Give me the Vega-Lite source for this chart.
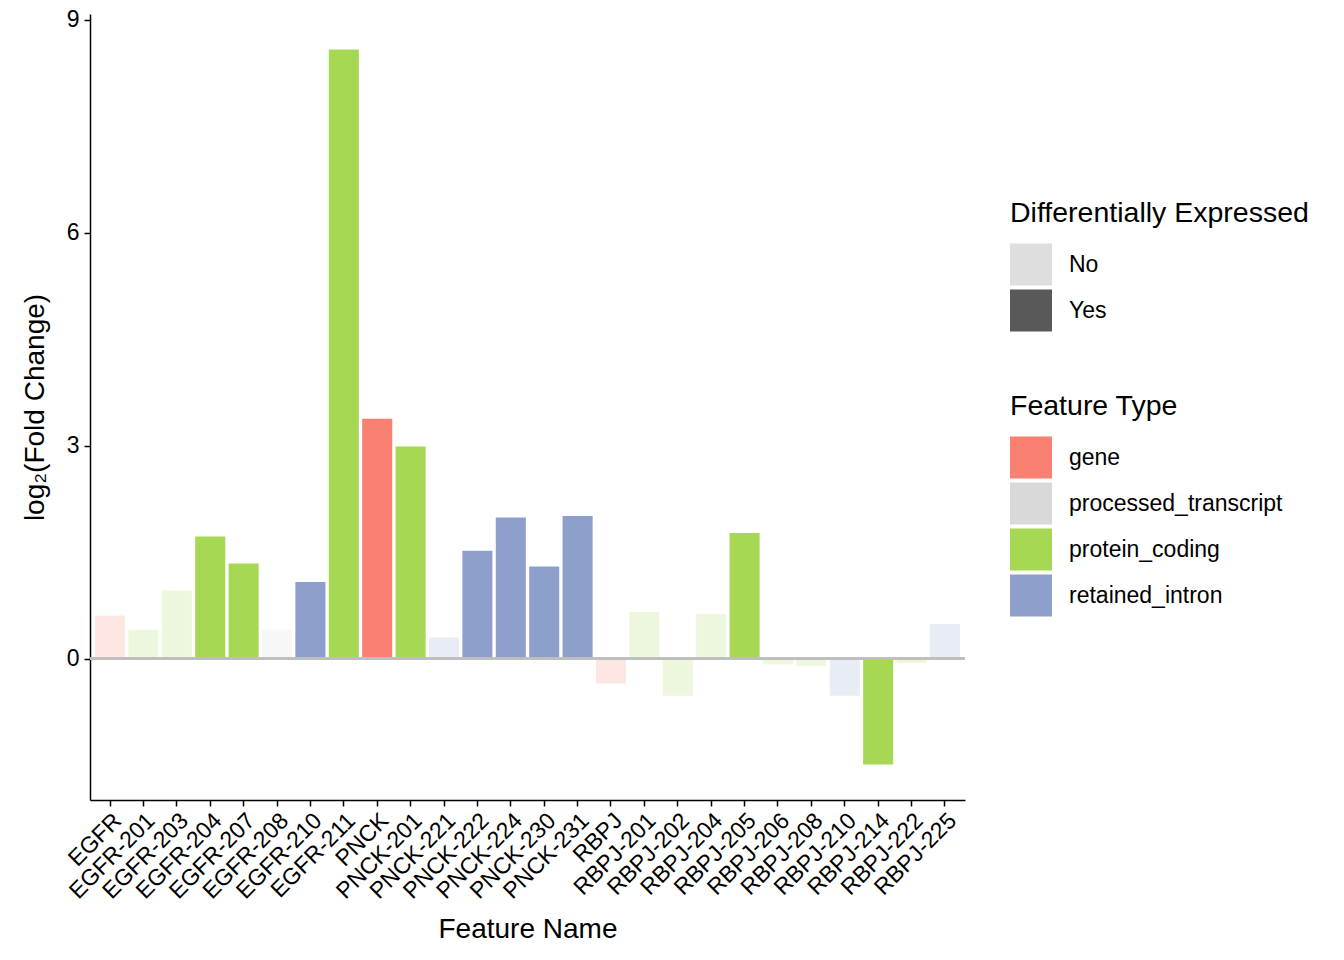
{
  "$schema": "https://vega.github.io/schema/vega-lite/v6.json",
  "width": 875,
  "height": 786,
  "autosize": {"type": "none"},
  "padding": {"left": 90, "top": 14, "right": 379, "bottom": 160},
  "background": "white",
  "config": {
    "view": {"stroke": null},
    "font": "Liberation Sans",
    "axis": {
      "domainColor": "black",
      "domainWidth": 1.5,
      "tickColor": "black",
      "tickWidth": 1.5,
      "tickSize": 6,
      "labelColor": "black",
      "labelFontSize": 23,
      "labelFont": "Liberation Sans",
      "titleFont": "Liberation Sans",
      "titleFontSize": 28,
      "titleFontWeight": "normal",
      "titleColor": "black",
      "grid": false
    },
    "legend": {
      "titleFont": "Liberation Sans",
      "titleFontSize": 28.5,
      "titleFontWeight": "normal",
      "titleColor": "black",
      "titleLimit": 500,
      "labelFont": "Liberation Sans",
      "labelFontSize": 23,
      "labelColor": "black",
      "labelLimit": 500,
      "symbolType": "square",
      "symbolSize": 1764,
      "symbolStrokeWidth": 0,
      "rowPadding": 4,
      "labelOffset": 17,
      "titlePadding": 16
    }
  },
  "data": {
    "values": [
      {"name": "EGFR", "lfc": 0.61, "type": "gene", "de": "No"},
      {"name": "EGFR-201", "lfc": 0.41, "type": "protein_coding", "de": "No"},
      {"name": "EGFR-203", "lfc": 0.96, "type": "protein_coding", "de": "No"},
      {"name": "EGFR-204", "lfc": 1.72, "type": "protein_coding", "de": "Yes"},
      {"name": "EGFR-207", "lfc": 1.34, "type": "protein_coding", "de": "Yes"},
      {"name": "EGFR-208", "lfc": 0.41, "type": "processed_transcript", "de": "No"},
      {"name": "EGFR-210", "lfc": 1.08, "type": "retained_intron", "de": "Yes"},
      {"name": "EGFR-211", "lfc": 8.58, "type": "protein_coding", "de": "Yes"},
      {"name": "PNCK", "lfc": 3.38, "type": "gene", "de": "Yes"},
      {"name": "PNCK-201", "lfc": 2.99, "type": "protein_coding", "de": "Yes"},
      {"name": "PNCK-221", "lfc": 0.30, "type": "retained_intron", "de": "No"},
      {"name": "PNCK-222", "lfc": 1.52, "type": "retained_intron", "de": "Yes"},
      {"name": "PNCK-224", "lfc": 1.99, "type": "retained_intron", "de": "Yes"},
      {"name": "PNCK-230", "lfc": 1.30, "type": "retained_intron", "de": "Yes"},
      {"name": "PNCK-231", "lfc": 2.01, "type": "retained_intron", "de": "Yes"},
      {"name": "RBPJ", "lfc": -0.35, "type": "gene", "de": "No"},
      {"name": "RBPJ-201", "lfc": 0.66, "type": "protein_coding", "de": "No"},
      {"name": "RBPJ-202", "lfc": -0.52, "type": "protein_coding", "de": "No"},
      {"name": "RBPJ-204", "lfc": 0.63, "type": "protein_coding", "de": "No"},
      {"name": "RBPJ-205", "lfc": 1.77, "type": "protein_coding", "de": "Yes"},
      {"name": "RBPJ-206", "lfc": -0.08, "type": "protein_coding", "de": "No"},
      {"name": "RBPJ-208", "lfc": -0.10, "type": "protein_coding", "de": "No"},
      {"name": "RBPJ-210", "lfc": -0.52, "type": "retained_intron", "de": "No"},
      {"name": "RBPJ-214", "lfc": -1.49, "type": "protein_coding", "de": "Yes"},
      {"name": "RBPJ-222", "lfc": -0.06, "type": "protein_coding", "de": "No"},
      {"name": "RBPJ-225", "lfc": 0.49, "type": "retained_intron", "de": "No"}
    ]
  },
  "layer": [
    {
      "mark": {"type": "bar"},
      "encoding": {
        "x": {
          "field": "name",
          "type": "nominal",
          "sort": null,
          "scale": {"paddingInner": 0.1, "paddingOuter": 0.15},
          "axis": {
            "title": "Feature Name",
            "labelAngle": -45,
            "labelAlign": "right",
            "labelBaseline": "top",
            "labelPadding": 3,
            "titlePadding": 13
          }
        },
        "y": {
          "field": "lfc",
          "type": "quantitative",
          "scale": {"domain": [-1.99, 9.08], "nice": false, "zero": false},
          "axis": {
            "values": [0, 3, 6, 9],
            "format": "d",
            "title": "log₂(Fold Change)",
            "labelPadding": 5,
            "titlePadding": 17
          }
        },
        "fill": {
          "field": "type",
          "type": "nominal",
          "scale": {
            "domain": ["gene", "processed_transcript", "protein_coding", "retained_intron"],
            "range": ["#FA8072", "#D9D9D9", "#A6D854", "#8DA0CB"]
          },
          "legend": {
            "title": "Feature Type",
            "orient": "none",
            "legendX": 920,
            "legendY": 378
          }
        },
        "opacity": {
          "field": "de",
          "type": "nominal",
          "scale": {"domain": ["No", "Yes"], "range": [0.2, 1]},
          "legend": {
            "title": "Differentially Expressed",
            "orient": "none",
            "legendX": 920,
            "legendY": 185,
            "symbolFillColor": "#595959"
          }
        }
      }
    },
    {
      "mark": {"type": "rule", "color": "#BEBEBE", "strokeWidth": 2},
      "encoding": {"y": {"datum": 0}}
    }
  ]
}
